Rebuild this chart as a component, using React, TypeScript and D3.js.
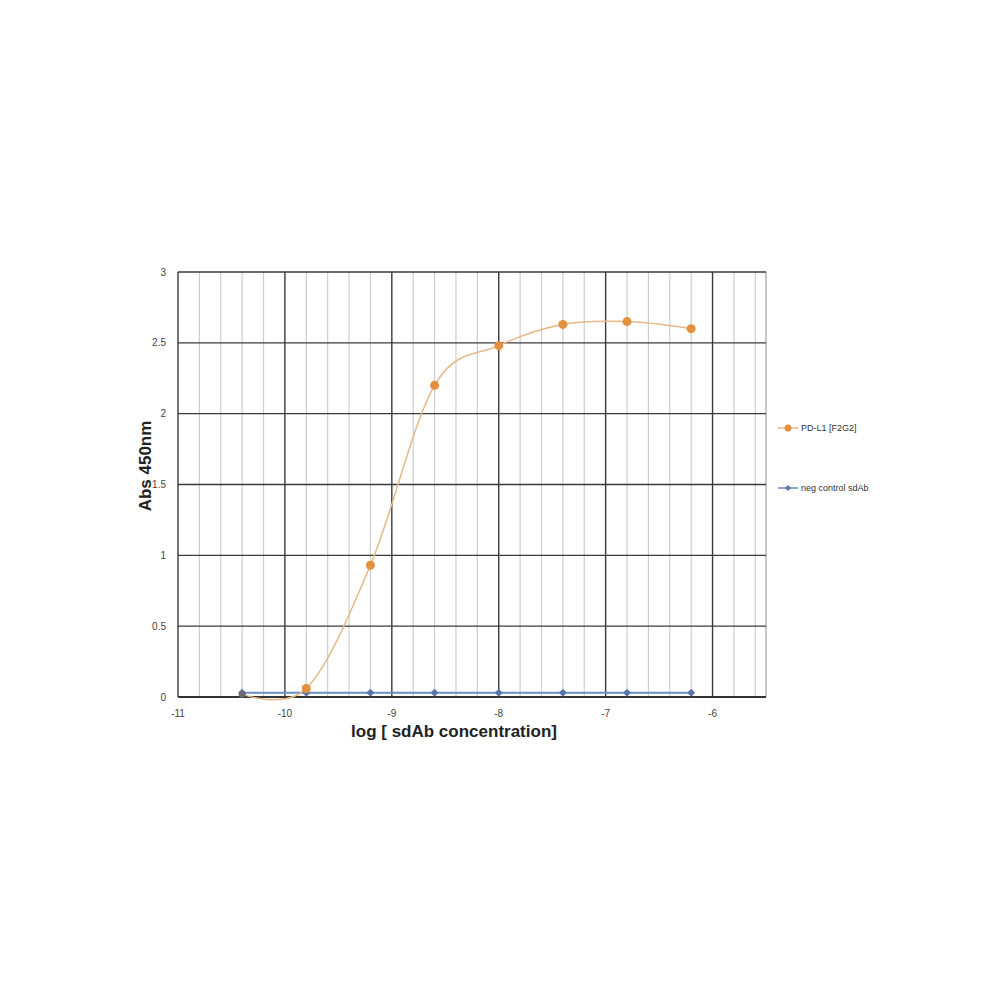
import React from "react";
import * as d3 from "d3";

const xTicks = [-11, -10, -9, -8, -7, -6];
const yTicks = [0, 0.5, 1, 1.5, 2, 2.5, 3];
const logConc = [-10.4, -9.8, -9.2, -8.6, -8.0, -7.4, -6.8, -6.2];
const pdl1 = [0.02, 0.06, 0.93, 2.2, 2.48, 2.63, 2.65, 2.6];
const negCtrl = [0.03, 0.03, 0.03, 0.03, 0.03, 0.03, 0.03, 0.03];
const seriesNames = ["PD-L1 [F2G2]", "neg control sdAb"];

const ORANGE = "#E3913F";
const ORANGE_LINE = "#E6B887";
const BLUE = "#5A76A8";
const BLUE_LINE = "#6D8EC2";

export default function App() {
  const W = 1000, H = 1000;
  const x = d3.scaleLinear().domain([-11, -5.5]).range([178, 766]);
  const y = d3.scaleLinear().domain([0, 3]).range([697, 272]);
  const minor = d3.range(-11, -5.5 + 1e-9, 0.2).map((v) => Math.round(v * 10) / 10).filter((v) => !xTicks.includes(v));

  const line = d3
    .line<number>()
    .x((_, i) => x(logConc[i]))
    .y((d) => y(d))
    .curve(d3.curveCardinal.tension(0));
  const lineStraight = d3
    .line<number>()
    .x((_, i) => x(logConc[i]))
    .y((d) => y(d));

  const font = "'Liberation Sans', Arial, sans-serif";
  const diamond = (cx: number, cy: number, r: number) =>
    `M${cx},${cy - r}L${cx + r},${cy}L${cx},${cy + r}L${cx - r},${cy}Z`;

  return (
    <svg width={W} height={H} style={{ display: "block", position: "absolute", left: 0, top: 0 }}>
      <rect width={W} height={H} fill="#fff" />
      {minor.map((v) => (
        <line key={"m" + v} x1={x(v)} x2={x(v)} y1={y(3)} y2={y(0)} stroke="#cdcdcd" strokeWidth={1.2} />
      ))}
      <line x1={x(-5.5)} x2={x(-5.5)} y1={y(3)} y2={y(0)} stroke="#a0a0a0" strokeWidth={1.2} />
      {yTicks.map((v) => (
        <line key={"h" + v} x1={x(-11)} x2={x(-5.5)} y1={y(v)} y2={y(v)} stroke="#3a3a3a" strokeWidth={1.4} />
      ))}
      {xTicks.map((v) => (
        <line key={"v" + v} x1={x(v)} x2={x(v)} y1={y(3)} y2={y(0)} stroke="#3a3a3a" strokeWidth={1.4} />
      ))}
      <line x1={x(-11)} x2={x(-5.5)} y1={y(0)} y2={y(0)} stroke="#333" strokeWidth={2} />
      {yTicks.map((v) => (
        <text key={"yt" + v} x={166} y={y(v)} dy="0.35em" textAnchor="end" fontSize={10} fill="#444" fontFamily={font}>
          {v}
        </text>
      ))}
      {xTicks.map((v) => (
        <text key={"xt" + v} x={x(v)} y={713} dy="0.35em" textAnchor="middle" fontSize={10} fill="#444" fontFamily={font}>
          {v}
        </text>
      ))}
      <text x={454} y={737} textAnchor="middle" fontSize={17} fontWeight="bold" fill="#222" fontFamily={font}>
        log [ sdAb concentration]
      </text>
      <text transform={`translate(151,466) rotate(-90)`} textAnchor="middle" fontSize={17} fontWeight="bold" fill="#222" fontFamily={font}>
        Abs 450nm
      </text>

      <path d={lineStraight(negCtrl) || ""} fill="none" stroke={BLUE_LINE} strokeWidth={1.8} />
      <path d={line(pdl1) || ""} fill="none" stroke={ORANGE_LINE} strokeWidth={1.5} />
      {negCtrl.map((v, i) => (
        <path key={"b" + i} d={diamond(x(logConc[i]), y(v), 4)} fill={BLUE} />
      ))}
      {pdl1.map((v, i) =>
        i === 0 ? null : <circle key={"o" + i} cx={x(logConc[i])} cy={y(v)} r={4.5} fill={ORANGE} />
      )}
      <circle cx={x(logConc[0])} cy={y(pdl1[0])} r={3.5} fill="#6a6a70" />

      <line x1={778} x2={798} y1={428} y2={428} stroke={ORANGE_LINE} strokeWidth={1.5} />
      <circle cx={788} cy={428} r={3.5} fill={ORANGE} />
      <text x={801} y={428} dy="0.35em" fontSize={9} fill="#333" fontFamily={font}>
        {seriesNames[0]}
      </text>
      <line x1={778} x2={798} y1={488} y2={488} stroke={BLUE_LINE} strokeWidth={1.5} />
      <path d={diamond(788, 488, 3)} fill={BLUE} />
      <text x={801} y={488} dy="0.35em" fontSize={9} fill="#333" fontFamily={font}>
        {seriesNames[1]}
      </text>
    </svg>
  );
}
